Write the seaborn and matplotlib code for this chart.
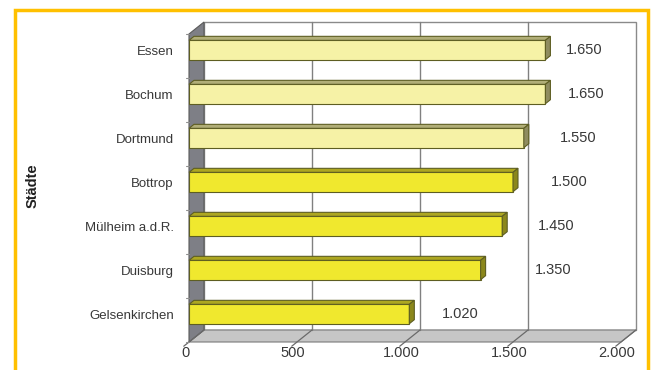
import matplotlib
matplotlib.use("Agg")
import matplotlib.pyplot as plt
from matplotlib.patches import Polygon, Rectangle
from matplotlib.lines import Line2D
from matplotlib.transforms import IdentityTransform, ScaledTranslation
import seaborn as sns
import pandas as pd

# Data
cities = ["Essen", "Bochum", "Dortmund", "Bottrop", "Mülheim a.d.R.", "Duisburg", "Gelsenkirchen"]
values = [1650, 1650, 1550, 1500, 1450, 1350, 1020]
x_ticks = [0, 500, 1000, 1500, 2000]
x_tick_labels = ["0", "500", "1.000", "1.500", "2.000"]
y_title = "Städte"

PALE = "#F6F2A6"
BRIGHT = "#F0E82E"
bar_colors = [PALE, PALE, PALE, BRIGHT, BRIGHT, BRIGHT, BRIGHT]
EDGE = "#5E5E22"
TEXT = "#383838"
# horizontal gap (pixels) between each bar end and its value label
label_gap = [20, 22, 36, 38, 36, 54, 33]

sns.set_theme(style="white")
plt.rcParams["font.family"] = ["Liberation Sans", "DejaVu Sans"]

W, H = 652, 370
fig = plt.figure(figsize=(W / 100, H / 100), dpi=100)
fig.patch.set_facecolor("white")

# front plane of the pseudo-3D box, in pixels
fx0, fx1, fy_top, fy_bot = 189, 621, 34, 342
ax = fig.add_axes([fx0 / W, (H - fy_bot) / H, (fx1 - fx0) / W, (fy_bot - fy_top) / H])

df = pd.DataFrame({"city": cities, "value": values})
sns.barplot(data=df, x="value", y="city", hue="city", palette=bar_colors,
            saturation=1, orient="h", width=0.44, edgecolor=EDGE, linewidth=0.8,
            legend=False, ax=ax, zorder=5)

ax.set_xlim(0, 2000)
ax.set_ylim(6.636, -0.364)
ax.set_facecolor("none")
for s in ax.spines.values():
    s.set_visible(False)

# depth of the box in pixels (right, up)
DX, DY = 15, 12
PIX = IdentityTransform()

def disp(x, y):
    return ax.transData.transform((x, y))

def add_poly(pts, fc, ec, lw=0.8, z=1):
    p = Polygon(pts, closed=True, facecolor=fc, edgecolor=ec, linewidth=lw,
                transform=PIX, zorder=z, clip_on=False)
    ax.add_artist(p)
    return p

def add_line(xs, ys, color, lw, z):
    ln = Line2D(xs, ys, color=color, lw=lw, transform=PIX, zorder=z, clip_on=False)
    ax.add_artist(ln)

ytop_d, ybot_d = -0.364, 6.636
ftl = disp(0, ytop_d); fbl = disp(0, ybot_d); fbr = disp(2000, ybot_d)
btl = ftl + [DX, DY]; bbl = fbl + [DX, DY]; bbr = fbr + [DX, DY]
btr = disp(2000, ytop_d) + [DX, DY]

# back wall
add_poly([btl, btr, bbr, bbl], "white", "#8A8A8A", 1.0, 0.5)
# floor
add_poly([fbl, fbr, bbr, bbl], "#C6C6C6", "#7A7A7A", 0.8, 0.6)
# left wall
add_poly([ftl, btl, bbl, fbl], "#7E7F86", "#5A5A5A", 0.8, 0.7)

# gridlines on the back wall
for t in x_ticks[1:-1]:
    top = disp(t, ytop_d) + [DX, DY]
    bot = disp(t, ybot_d) + [DX, DY]
    add_line([top[0], bot[0]], [top[1], bot[1]], "#808080", 1.0, 0.8)
# gridlines across the floor, running on as slanted tick marks
for t in x_ticks:
    b = disp(t, ybot_d) + [DX, DY]
    f = disp(t, ybot_d)
    end = f - [DX * 0.35, DY * 0.35]
    add_line([b[0], end[0]], [b[1], end[1]], "#6A6A6A", 0.9, 0.9)

# small category boundary ticks on the left wall edge
for k in range(8):
    p = disp(0, k - 0.5 + 0.136)
    add_line([p[0] - 3, p[0]], [p[1], p[1]], "#909090", 0.8, 0.9)

def shade(c, f):
    r, g, b = matplotlib.colors.to_rgb(c)
    return (r * f, g * f, b * f)

# 3D top and end faces of the bars
bdx, bdy = 5, 4
bars = [p for p in ax.patches if isinstance(p, Rectangle)][:len(values)]
for patch, col in zip(bars, bar_colors):
    x0, y0 = patch.get_x(), patch.get_y()
    w, h = patch.get_width(), patch.get_height()
    a = disp(x0, y0)
    b = disp(x0 + w, y0 + h)
    xl, xr = a[0], b[0]
    yt, yb = max(a[1], b[1]), min(a[1], b[1])
    add_poly([(xl, yt), (xr, yt), (xr + bdx, yt + bdy), (xl + bdx, yt + bdy)],
             shade(col, 0.72), EDGE, 0.8, 6)
    add_poly([(xr, yb), (xr, yt), (xr + bdx, yt + bdy), (xr + bdx, yb + bdy)],
             shade(col, 0.58), EDGE, 0.8, 6)

# value labels
for i, (v, gap) in enumerate(zip(values, label_gap)):
    ax.annotate(f"{v:,}".replace(",", "."), xy=(v, i), xytext=(gap * 0.72, 0),
                textcoords="offset points", va="center", ha="left",
                fontsize=10.5, color=TEXT, zorder=7)

# axes ticks and labels
ax.set_xticks(x_ticks)
ax.set_xticklabels(x_tick_labels, fontsize=10.5, color=TEXT)
ax.tick_params(axis="x", length=0, pad=3)
shift = ScaledTranslation(-4 / 100, 0, fig.dpi_scale_trans)
for lbl in ax.get_xticklabels():
    lbl.set_transform(lbl.get_transform() + shift)
ax.set_yticks(range(len(cities)))
ax.set_yticklabels(cities, fontsize=9.5, color=TEXT)
ax.tick_params(axis="y", length=0, pad=11)
ax.set_xlabel("")
ax.set_ylabel("")

fig.text(33 / W, 1 - 186 / H, y_title, rotation=90, ha="center", va="center",
         fontsize=10.5, fontweight="bold", color="#202020")

# gold frame around the chart
fig.add_artist(Rectangle((15 / W, -0.05), (648 - 15) / W, 1.05 - 10 / H,
                         transform=fig.transFigure, fill=False,
                         edgecolor="#FFC000", linewidth=2.5, zorder=10))

fig.savefig("out.png", dpi=100)
